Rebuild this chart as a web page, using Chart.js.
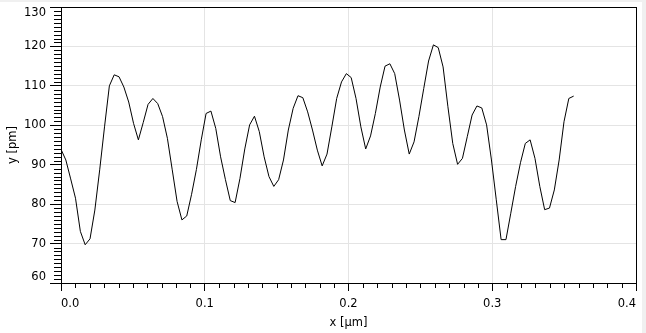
<!DOCTYPE html>
<html>
<head>
<meta charset="utf-8">
<script src="https://cdn.jsdelivr.net/npm/chart.js@4.4.0/dist/chart.umd.min.js"></script>
<style>
  html, body { margin: 0; padding: 0; background: #f0f0f0; }
  #wrap { position: absolute; left: 0; top: 2px; width: 642px; height: 331px; background: #fff; }
  canvas { display: block; }
</style>
</head>
<body>
<div id="wrap"><canvas id="profile" width="642" height="331"></canvas></div>
<script>
// height profile along one scan line (107 samples over 0.36 µm)
const scanLength = 0.36;
const heights = [
  93.9, 91.2, 86.4, 81.5, 73.1, 69.7, 71.2, 78.5, 88.7, 99.6,
  110.0, 112.8, 112.3, 109.7, 105.9, 100.5, 96.3, 100.7, 105.3, 106.8,
  105.5, 102.2, 96.7, 88.7, 80.7, 76.0, 77.0, 82.5, 88.8, 96.3,
  103.0, 103.6, 99.2, 92.0, 86.2, 80.9, 80.4, 86.5, 94.0, 100.1,
  102.3, 98.4, 92.0, 87.0, 84.5, 86.2, 91.2, 98.8, 104.3, 107.5,
  107.0, 103.4, 98.8, 93.7, 89.7, 92.7, 99.6, 106.8, 111.0, 113.1,
  112.1, 106.8, 99.6, 94.0, 97.3, 103.0, 109.7, 115.0, 115.6, 113.1,
  106.4, 98.8, 92.7, 95.8, 102.2, 109.3, 116.3, 120.4, 119.7, 114.8,
  104.7, 95.4, 90.1, 91.6, 97.1, 102.6, 104.9, 104.4, 100.1, 91.2,
  81.1, 71.0, 71.0, 77.7, 84.5, 90.5, 95.4, 96.3, 91.6, 84.5,
  78.6, 79.0, 83.6, 91.2, 100.9, 106.8, 107.4
];
const xTicks = [0, 0.1, 0.2, 0.3, 0.4];
const yTicks = [60, 70, 80, 90, 100, 110, 120, 130];

const step = scanLength / heights.length;
const points = heights.map(function (h, i) { return { x: i * step, y: h }; });

const fontFamily = '"DejaVu Sans", Verdana, sans-serif';
Chart.defaults.font.family = fontFamily;
Chart.defaults.font.size = 11.5;
Chart.defaults.color = '#000';

// minor ticks, the closed frame and the y labels (first/last pulled inside)
const framePlugin = {
  id: 'framePlugin',
  afterDraw: function (chart) {
    const ctx = chart.ctx;
    const a = chart.chartArea;
    const xs = chart.scales.x;
    const ys = chart.scales.y;
    ctx.save();
    ctx.strokeStyle = '#000';
    ctx.lineWidth = 1;
    ctx.beginPath();
    for (let k = 1; k < 40; k++) {
      if (k % 10 === 0) continue;
      const px = Math.round(xs.getPixelForValue(k / 100)) + 0.5;
      ctx.moveTo(px, a.bottom);
      ctx.lineTo(px, a.bottom + 5);
    }
    for (let v = 61; v < 130; v++) {
      if (v % 10 === 0) continue;
      const py = Math.round(ys.getPixelForValue(v)) + 0.5;
      ctx.moveTo(a.left - 7, py);
      ctx.lineTo(a.left, py);
    }
    ctx.stroke();
    ctx.strokeRect(Math.round(a.left) + 0.5, Math.round(a.top) + 0.5,
      Math.round(a.right - a.left), Math.round(a.bottom - a.top));

    ctx.font = '11.5px ' + fontFamily;
    ctx.fillStyle = '#000';
    ctx.textAlign = 'right';
    yTicks.forEach(function (v, i) {
      if (i === 0) ctx.textBaseline = 'bottom';
      else if (i === yTicks.length - 1) ctx.textBaseline = 'top';
      else ctx.textBaseline = 'middle';
      ctx.fillText(String(v), a.left - 15, ys.getPixelForValue(v));
    });
    ctx.restore();
  }
};

new Chart(document.getElementById('profile'), {
  type: 'line',
  data: {
    datasets: [{
      data: points,
      borderColor: '#000',
      borderWidth: 1,
      pointRadius: 0,
      tension: 0,
      fill: false
    }]
  },
  options: {
    responsive: false,
    animation: false,
    devicePixelRatio: 1,
    layout: { padding: { top: 5, right: 5, left: 0, bottom: 0 } },
    plugins: { legend: { display: false }, tooltip: { enabled: false } },
    scales: {
      x: {
        type: 'linear',
        min: 0,
        max: 0.4,
        afterBuildTicks: function (s) { s.ticks = xTicks.map(function (v) { return { value: v }; }); },
        afterFit: function (s) { s.height = 50; },
        ticks: {
          align: 'inner',
          padding: 6,
          maxRotation: 0,
          callback: function (v) { return v.toFixed(1); }
        },
        grid: { color: '#e4e4e4', tickColor: '#000', tickLength: 8 },
        border: { color: '#000' },
        title: { display: true, text: 'x [µm]', padding: { top: 0, bottom: 3 }, font: { size: 11.5 } }
      },
      y: {
        min: 60,
        max: 130,
        afterBuildTicks: function (s) { s.ticks = yTicks.map(function (v) { return { value: v }; }); },
        afterFit: function (s) { s.width = 61; },
        ticks: { display: false },
        grid: { color: '#e4e4e4', tickColor: '#000', tickLength: 11 },
        border: { color: '#000' },
        title: { display: true, text: 'y [pm]', padding: { top: 6, bottom: 0 }, font: { size: 11.5 } }
      }
    }
  },
  plugins: [framePlugin]
});
</script>
</body>
</html>
